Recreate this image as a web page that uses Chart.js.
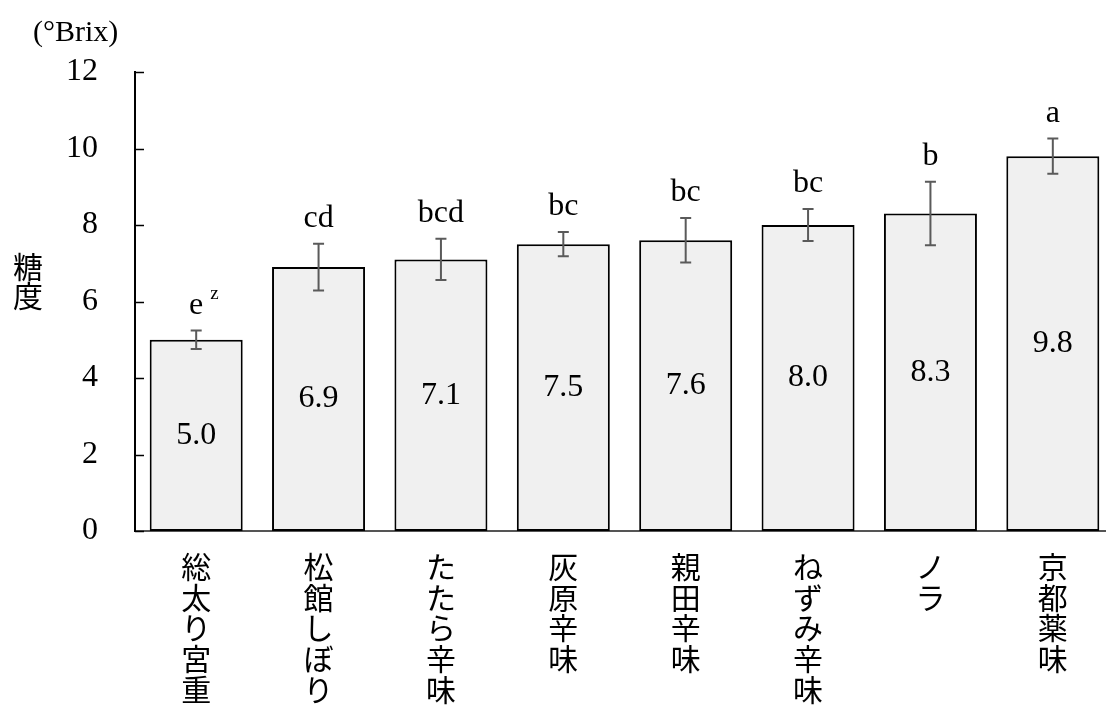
<!DOCTYPE html>
<html>
<head>
<meta charset="utf-8">
<script src="https://cdn.jsdelivr.net/npm/chart.js@4"></script>
<style>
  html, body { margin: 0; padding: 0; background: #fff; overflow: hidden; }
  #wrap { width: 1114px; height: 708px; }
</style>
</head>
<body>
<div id="wrap"><canvas id="c" width="1114" height="708"></canvas></div>
<script>
// Cultivar names (drawn vertically, one character per line)
const cultivars = ['総太り宮重', '松館しぼり', 'たたら辛味', '灰原辛味', '親田辛味', 'ねずみ辛味', 'ノラ', '京都薬味'];
// Mean sugar content (°Brix) and standard error
const brix = [5.0, 6.9, 7.1, 7.5, 7.6, 8.0, 8.3, 9.8];
const brixErr = [0.24, 0.61, 0.54, 0.32, 0.58, 0.42, 0.83, 0.46];
// Significance groups and footnote marks
const sigLetters = ['e', 'cd', 'bcd', 'bc', 'bc', 'bc', 'b', 'a'];
const footMarks = ['z', '', '', '', '', '', '', ''];
// Y axis ticks
const yTicks = [0, 2, 4, 6, 8, 10, 12];

const SERIF = '"Liberation Serif", "Times New Roman", "Noto Sans CJK JP", serif';
const CJK = '"Liberation Serif", "Noto Sans CJK JP", serif';

const overlay = {
  id: 'overlay',
  afterDatasetsDraw(chart) {
    const ctx = chart.ctx;
    const y = chart.scales.y;
    const meta = chart.getDatasetMeta(0);
    ctx.save();
    // inward tick marks on the y axis
    ctx.strokeStyle = '#000';
    ctx.lineWidth = 1.5;
    yTicks.forEach(v => {
      const py = Math.round(y.getPixelForValue(v)) + 0.5;
      ctx.beginPath();
      ctx.moveTo(chart.chartArea.left, py);
      ctx.lineTo(chart.chartArea.left + 9, py);
      ctx.stroke();
    });
    meta.data.forEach((bar, i) => {
      const x = bar.x;
      const v = brix[i], e = brixErr[i];
      const top = y.getPixelForValue(v + e);
      const bot = y.getPixelForValue(v - e);
      // error bar
      ctx.strokeStyle = '#5a5a5a';
      ctx.lineWidth = 2;
      ctx.beginPath();
      ctx.moveTo(x, top); ctx.lineTo(x, bot);
      ctx.moveTo(x - 5.5, top); ctx.lineTo(x + 5.5, top);
      ctx.moveTo(x - 5.5, bot); ctx.lineTo(x + 5.5, bot);
      ctx.stroke();
      // value inside bar
      ctx.fillStyle = '#000';
      ctx.font = '32px ' + SERIF;
      ctx.textAlign = 'center';
      ctx.textBaseline = 'middle';
      const mid = (y.getPixelForValue(v) + y.getPixelForValue(0)) / 2;
      ctx.fillText(v.toFixed(1), x, mid);
      // significance letters
      ctx.textBaseline = 'alphabetic';
      const base = top - 17;
      ctx.fillText(sigLetters[i], x, base);
      if (footMarks[i]) {
        const w = ctx.measureText(sigLetters[i]).width;
        ctx.font = '19px ' + SERIF;
        ctx.textAlign = 'left';
        ctx.fillText(footMarks[i], x + w / 2 + 7, base - 15);
      }
    });
    // axis unit and vertical axis title
    ctx.font = '30px ' + SERIF;
    ctx.textAlign = 'left';
    ctx.textBaseline = 'alphabetic';
    ctx.fillText('(°Brix)', 33, 41);
    ctx.font = '30px ' + CJK;
    ctx.textAlign = 'center';
    ctx.textBaseline = 'middle';
    ['糖', '度'].forEach((ch, k) => ctx.fillText(ch, 28, 270 + k * 29));
    ctx.restore();
  }
};

new Chart(document.getElementById('c'), {
  type: 'bar',
  data: {
    labels: cultivars.map(s => [...s]),
    datasets: [{
      data: brix,
      backgroundColor: '#f0f0f0',
      borderColor: '#000',
      borderWidth: 2,
      borderSkipped: false,
      barPercentage: 0.76,
      categoryPercentage: 1
    }]
  },
  options: {
    responsive: false,
    animation: false,
    devicePixelRatio: 1,
    layout: { padding: { top: 72, right: 0, bottom: 0, left: 0 } },
    plugins: { legend: { display: false }, tooltip: { enabled: false } },
    scales: {
      x: {
        grid: { display: false, drawTicks: false },
        border: { display: true, color: '#555', width: 2 },
        ticks: {
          color: '#000',
          font: { family: CJK, size: 30, lineHeight: 1.02 },
          padding: 24,
          maxRotation: 0,
          autoSkip: false
        },
        afterFit(scale) { scale.height = 177; }
      },
      y: {
        min: 0,
        max: 12,
        grid: { display: false, drawTicks: false },
        border: { display: true, color: '#000', width: 2 },
        ticks: {
          stepSize: 2,
          color: '#000',
          font: { family: SERIF, size: 32 },
          padding: 37
        },
        afterFit(scale) { scale.width = 135; }
      }
    }
  },
  plugins: [overlay]
});
</script>
</body>
</html>
